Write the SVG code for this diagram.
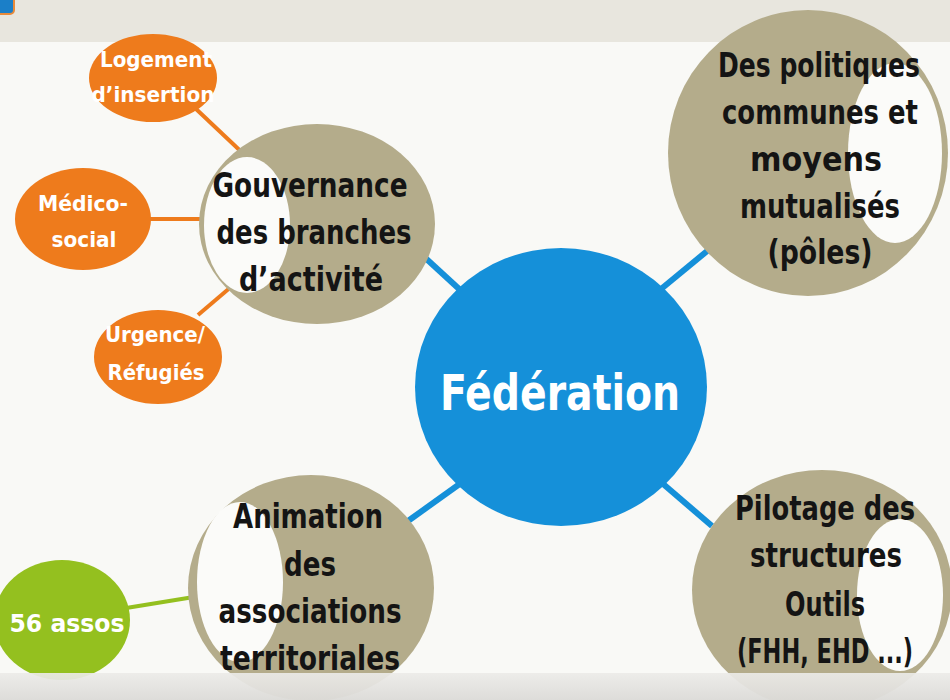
<svg xmlns="http://www.w3.org/2000/svg" width="950" height="700" viewBox="0 0 950 700">
  <defs>
    <linearGradient id="bottomBand" x1="0" y1="0" x2="0" y2="1">
      <stop offset="0" stop-color="#ecebe8" stop-opacity="0.92"/>
      <stop offset="1" stop-color="#dcdbd8" stop-opacity="0.96"/>
    </linearGradient>
  </defs>
  <style>
    .beige { fill: #b4ac8b; }
    .hole { fill: #fbfbf9; }
    .orange { fill: #ee7b1c; }
    .green { fill: #94c01f; }
    .blue { fill: #1590d9; }
    .lbl { font-family: "DejaVu Sans Condensed", "DejaVu Sans", sans-serif; font-weight: bold; text-anchor: middle; }
    .dark { fill: #141414; font-size: 34px; }
    .white { fill: #ffffff; font-size: 22px; }
    .big { fill: #ffffff; font-size: 49px; }
    .cb { stroke: #1590d9; stroke-width: 6; fill: none; }
    .co { stroke: #ee7b1c; stroke-width: 4; fill: none; }
    .cg { stroke: #94c01f; stroke-width: 4; fill: none; }
  </style>

  <rect x="0" y="0" width="950" height="700" fill="#f9f9f6"/>
  <rect x="0" y="0" width="950" height="42" fill="#e8e6de"/>
  <rect x="-6" y="-6" width="20" height="20" rx="4" fill="#1b7fc8" stroke="#e88a3a" stroke-width="2"/>

  <g id="connectors">
    <line class="cb" x1="420" y1="253" x2="470" y2="299"/>
    <line class="cb" x1="712" y1="247" x2="655" y2="294"/>
    <line class="cb" x1="408" y1="521" x2="468" y2="478"/>
    <line class="cb" x1="655" y1="477" x2="712" y2="526"/>
    <line class="co" x1="195" y1="108" x2="250" y2="160"/>
    <line class="co" x1="140" y1="219" x2="210" y2="219"/>
    <line class="co" x1="198" y1="315" x2="245" y2="275"/>
    <line class="cg" x1="120" y1="609" x2="200" y2="596"/>
  </g>

  <g id="gouvernance">
    <ellipse class="beige" cx="317" cy="224" rx="118" ry="100"/>
    <ellipse class="hole" cx="247" cy="225" rx="43" ry="68"/>
    <text class="lbl dark" x="310" y="197" textLength="195" lengthAdjust="spacingAndGlyphs">Gouvernance</text>
    <text class="lbl dark" x="314" y="244" textLength="195" lengthAdjust="spacingAndGlyphs">des branches</text>
    <text class="lbl dark" x="311" y="291" textLength="144" lengthAdjust="spacingAndGlyphs">d’activité</text>
  </g>

  <g id="politiques">
    <ellipse class="beige" cx="808" cy="153" rx="140" ry="143"/>
    <ellipse class="hole" cx="895" cy="153" rx="47" ry="90"/>
    <text class="lbl dark" x="819" y="77" textLength="202" lengthAdjust="spacingAndGlyphs">Des politiques</text>
    <text class="lbl dark" x="820" y="124" textLength="196" lengthAdjust="spacingAndGlyphs">communes et</text>
    <text class="lbl dark" x="816" y="171" textLength="132" lengthAdjust="spacingAndGlyphs">moyens</text>
    <text class="lbl dark" x="820" y="218" textLength="160" lengthAdjust="spacingAndGlyphs">mutualisés</text>
    <text class="lbl dark" x="820" y="264" textLength="105" lengthAdjust="spacingAndGlyphs">(pôles)</text>
  </g>

  <g id="animation">
    <ellipse class="beige" cx="311" cy="588" rx="123" ry="113"/>
    <ellipse class="hole" cx="240" cy="582" rx="43" ry="80"/>
    <text class="lbl dark" x="308" y="528" textLength="150" lengthAdjust="spacingAndGlyphs">Animation</text>
    <text class="lbl dark" x="310" y="576" textLength="52" lengthAdjust="spacingAndGlyphs">des</text>
    <text class="lbl dark" x="310" y="623" textLength="183" lengthAdjust="spacingAndGlyphs">associations</text>
    <text class="lbl dark" x="310" y="670" textLength="180" lengthAdjust="spacingAndGlyphs">territoriales</text>
  </g>

  <g id="pilotage">
    <ellipse class="beige" cx="822" cy="590" rx="130" ry="120"/>
    <ellipse class="hole" cx="900" cy="595" rx="43" ry="76"/>
    <text class="lbl dark" x="825" y="520" textLength="180" lengthAdjust="spacingAndGlyphs">Pilotage des</text>
    <text class="lbl dark" x="826" y="567" textLength="152" lengthAdjust="spacingAndGlyphs">structures</text>
    <text class="lbl dark" x="825" y="616" textLength="80" lengthAdjust="spacingAndGlyphs">Outils</text>
    <text class="lbl dark" x="825" y="663" textLength="176" lengthAdjust="spacingAndGlyphs">(FHH, EHD ...)</text>
  </g>

  <g id="federation">
    <ellipse class="blue" cx="561" cy="387" rx="146" ry="139"/>
    <text class="lbl big" x="560" y="410" textLength="240" lengthAdjust="spacingAndGlyphs">Fédération</text>
  </g>

  <g id="logement">
    <ellipse class="orange" cx="153" cy="78" rx="64" ry="44"/>
    <text class="lbl white" x="156" y="67" textLength="112" lengthAdjust="spacingAndGlyphs">Logement</text>
    <text class="lbl white" x="153" y="102" textLength="123" lengthAdjust="spacingAndGlyphs">d’insertion</text>
  </g>

  <g id="medico">
    <ellipse class="orange" cx="83" cy="219" rx="68" ry="51"/>
    <text class="lbl white" x="83" y="211" textLength="90" lengthAdjust="spacingAndGlyphs">Médico-</text>
    <text class="lbl white" x="84" y="247" textLength="65" lengthAdjust="spacingAndGlyphs">social</text>
  </g>

  <g id="urgence">
    <ellipse class="orange" cx="158" cy="357" rx="64" ry="47"/>
    <text class="lbl white" x="155" y="342" textLength="100" lengthAdjust="spacingAndGlyphs">Urgence/</text>
    <text class="lbl white" x="156" y="380" textLength="97" lengthAdjust="spacingAndGlyphs">Réfugiés</text>
  </g>

  <g id="assos">
    <ellipse class="green" cx="62" cy="620" rx="68" ry="60"/>
    <text class="lbl white" x="67" y="632" style="font-size:24px" textLength="115" lengthAdjust="spacingAndGlyphs">56 assos</text>
  </g>

  <rect x="0" y="673" width="950" height="27" fill="url(#bottomBand)"/>
</svg>
